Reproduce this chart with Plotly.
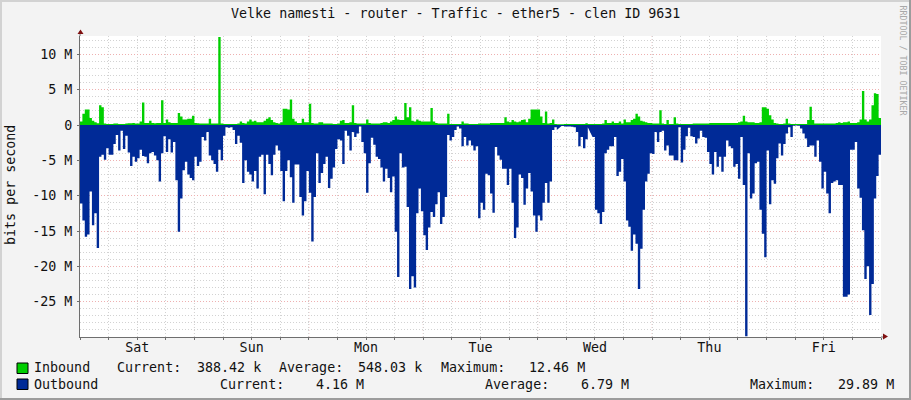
import numpy as np
import plotly.graph_objects as go

# half hour samples over one week, Mbit/s (outbound drawn negative)
outbound = [
    -11.1, -13.5, -15.8, -15.5, -9.4, -14.2, -12.5, -17.4, -4.5, -4.2,
    -4.9, -3.3, -4.2, -4.2, -2.7, -1.4, -3.6, -0.8, -3.4, -1.5,
    -3.9, -5.8, -4.5, -5.2, -4.7, -3.5, -4.4, -4.5, -5.4, -4.0,
    -3.8, -4.3, -5.0, -8.0, -4.0, -1.6, -3.8, -2.0, -3.9, -2.4,
    -7.8, -15.1, -10.4, -6.4, -5.2, -7.0, -7.5, -7.8, -4.5, -5.8,
    -5.2, -1.7, -2.2, -1.0, -4.3, -5.0, -5.5, -6.6, -3.5, -5.0,
    -1.5, -0.3, -0.4, -0.3, -0.7, -2.7, -1.5, -2.5, -8.2, -5.0,
    -6.6, -7.0, -8.0, -6.5, -9.0, -4.5, -4.2, -9.8, -4.2, -5.5,
    -7.1, -4.2, -2.9, -3.6, -6.5, -10.8, -6.5, -5.0, -7.4, -11.0,
    -5.6, -5.6, -10.2, -12.8, -10.8, -6.5, -9.6, -16.5, -10.2, -4.0,
    -8.2, -6.8, -5.5, -4.5, -8.9, -7.6, -6.0, -3.4, -2.0, -2.2,
    -5.5, -0.8, -1.5, -3.6, -1.0, -1.7, -1.2, -0.2, -2.4, -4.0,
    -9.6, -5.4, -1.8, -2.8, -4.5, -4.8, -6.0, -8.0, -6.2, -7.5,
    -9.5, -7.3, -15.1, -21.5, -4.0, -6.0, -5.9, -11.6, -23.2, -21.4,
    -23.0, -12.5, -9.0, -12.2, -15.6, -17.7, -14.5, -12.3, -13.0, -11.2,
    -9.5, -14.0, -13.0, -10.2, -1.4, -2.2, -1.7, -0.7, -0.2, -0.5,
    -3.0, -1.7, -2.9, -2.2, -2.9, -3.6, -3.0, -13.2, -11.0, -12.0,
    -6.9, -7.1, -9.7, -12.4, -3.1, -4.3, -4.9, -6.2, -6.2, -8.5,
    -6.2, -11.0, -16.0, -14.5, -7.0, -7.5, -11.3, -9.0, -6.8, -9.4,
    -12.8, -15.1, -12.8, -13.5, -11.0, -8.2, -11.0, -8.0, -0.7, -0.3,
    -0.7, None, -0.15, -0.2, -0.2, -0.2, -0.25, -0.3, -1.0, -3.0,
    -1.7, -3.3, -2.0, -0.3, None, -1.7, -12.0, -12.5, -14.0, -12.3,
    -4.0, -3.5, -3.0, -3.0, -1.7, -7.2, -6.6, -4.8, -8.0, -13.5,
    -14.4, -17.8, -15.5, -16.8, -23.2, -17.5, -12.0, -8.0, -6.9, -4.0,
    -4.1, -1.0, -2.4, -1.0, -0.8, -3.6, -2.9, -4.3, -4.3, -5.0,
    -5.0, -0.3, -5.3, -3.5, -1.6, -0.4, -1.6, -1.7, -2.6, -1.9,
    -0.8, -1.7, -1.8, -3.8, -5.5, -7.0, -3.8, -5.9, -4.5, -6.6,
    -4.5, -2.2, -3.0, -3.3, -5.9, -5.5, -7.6, -1.7, -8.5, -29.89,
    -4.0, -10.4, -9.7, -5.4, -5.2, -12.0, -15.4, -18.7, -3.6, -11.2,
    -7.8, -8.3, -4.7, -2.6, -4.3, -2.7, -1.2, -0.3, -1.7, -0.1,
    -0.05, -0.1, -0.5, -1.2, -1.9, -3.1, -2.9, -2.9, -4.5, -2.2,
    -5.2, -9.0, -6.6, -9.7, -12.5, -8.2, -8.0, -7.8, -8.5, -8.5,
    -24.3, -24.3, -24.0, -3.5, -3.5, -2.4, -9.0, -10.3, -14.9, -21.8,
    -20.0, -26.9, -22.5, -10.4, -7.2, -4.2,
]
inbound = [
    0.5, 1.6, 2.2, 2.2, 1.0, 0.6, 0.4, 0.25, 2.8, 2.5,
    0.2, 0.15, 0.15, 0.15, 0.2, 0.2, 0.15, 0.15, 0.15, 0.2,
    0.25, 0.25, 0.3, 0.2, 0.2, 0.5, 3.2, 0.3, 0.3, 0.6,
    0.3, 0.25, 0.3, 0.3, 3.5, 0.3, 0.8, 0.4, 0.3, 0.3,
    0.3, 1.7, 1.2, 0.8, 0.8, 0.9, 0.9, 1.3, 0.3, 0.25,
    0.2, 0.2, 0.2, 0.2, 0.9, 0.2, 0.2, 0.2, 12.46, 0.2,
    0.15, 0.15, 0.15, 0.15, 0.15, 0.15, 0.2, 0.5, 0.3, 0.2,
    0.5, 0.8, 0.5, 0.6, 0.4, 0.4, 0.4, 0.6, 0.9, 1.1,
    0.7, 0.4, 0.3, 0.2, 0.4, 2.3, 2.3, 2.2, 3.6, 0.9,
    0.5, 0.3, 0.3, 0.9, 0.4, 0.4, 3.0, 0.3, 0.2, 0.2,
    0.4, 0.4, 0.2, 0.2, 0.2, 0.2, 0.15, 0.15, 0.2, 0.6,
    0.7, 0.3, 0.3, 0.4, 2.8, 0.3, 0.2, 0.2, 0.2, 0.2,
    0.8, 0.3, 0.2, 0.2, 0.2, 0.2, 0.3, 0.4, 0.4, 0.3,
    0.5, 0.7, 1.2, 0.8, 0.7, 0.7, 3.1, 1.1, 2.5, 0.6,
    0.5, 0.8, 0.6, 0.5, 0.5, 0.5, 0.5, 2.4, 0.5, 0.3,
    0.2, 0.2, 0.2, 0.2, 1.6, 0.15, 0.15, 0.15, 0.15, 0.15,
    0.5, 0.2, 0.2, 0.15, 0.15, 0.15, 0.15, 0.2, 0.2, 0.2,
    0.2, 0.2, 0.3, 0.3, 0.3, 0.3, 0.3, 0.3, 1.1, 0.5,
    0.4, 0.7, 0.5, 0.4, 0.5, 0.7, 0.8, 0.4, 0.9, 2.2,
    2.2, 2.2, 2.2, 1.2, 0.3, 1.9, 0.2, 0.3, 0.8, 0.15,
    0.1, None, 0.1, 0.15, 0.15, 0.15, 0.15, 0.15, 0.15, 0.15,
    0.15, 0.15, 0.25, 0.15, None, 0.15, 0.15, 0.15, 0.15, 0.2,
    0.7, 0.3, 0.3, 0.5, 0.3, 0.3, 0.5, 0.2, 0.8, 0.4,
    0.4, 0.7, 0.9, 1.6, 1.2, 0.6, 0.5, 0.4, 0.3, 0.3,
    0.2, 0.2, 0.2, 2.1, 0.2, 0.15, 0.7, 0.15, 0.15, 1.1,
    0.2, 0.15, 0.15, 0.15, 0.15, 0.15, 0.15, 0.2, 0.2, 0.2,
    0.2, 0.2, 0.2, 0.2, 0.3, 0.3, 0.3, 0.3, 0.3, 0.3,
    0.3, 0.3, 0.3, 0.3, 0.3, 0.3, 0.4, 0.5, 1.3, 0.5,
    0.4, 0.4, 0.4, 0.3, 0.3, 0.4, 2.5, 2.5, 2.3, 1.4,
    0.8, 0.3, 0.2, 0.15, 0.15, 0.2, 0.9, 0.2, 0.15, 0.15,
    0.15, 0.15, 0.15, 0.15, 0.15, 0.7, 2.6, 0.7, 0.2, 0.2,
    0.2, 0.2, 0.2, 0.2, 0.2, 0.2, 0.2, 0.3, 0.4, 0.3,
    0.4, 0.4, 0.5, 0.3, 0.3, 0.3, 0.4, 0.8, 4.8, 0.8,
    0.5, 0.8, 2.8, 4.5, 4.4, 1.0,
]
assert len(outbound) == 336 and len(inbound) == 336

days = ['Sat', 'Sun', 'Mon', 'Tue', 'Wed', 'Thu', 'Fri']
y_ticks = [10, 5, 0, -5, -10, -15, -20, -25]
y_labels = ['10 M', '5 M', '0', '-5 M', '-10 M', '-15 M', '-20 M', '-25 M']

# legend rows: text, left edge in pixels
inbound_row = [('Inbound', 32), ('Current:', 114.5), ('388.42 k', 194.5), ('Average:', 277),
               ('548.03 k', 356), ('Maximum:', 439), ('12.46 M', 527)]
outbound_row = [('Outbound', 32), ('Current:', 217.5), ('4.16 M', 314), ('Average:', 483),
                ('6.79 M', 579), ('Maximum:', 747.5), ('29.89 M', 836)]

GREEN = '#00CF00'
BLUE = '#002A97'
GREY_GRID = '#d2d2d2'
RED_GRID = '#eeb0b0'
AXIS = '#6e6e6e'
ARROW = '#7f1010'
MONO = 'DejaVu Sans Mono'
TEXT_SIZE = 13.33

W, H = 911, 400
L, R, T, B = 80, 30, 36, 63
hours = np.arange(337) * 0.5


def px(x):
    return (x - L) / (W - L - R)


def py(y):
    return 1 - (y - T) / (H - T - B)


def label(x, y, text, anchor='left', size=TEXT_SIZE, color='#111111', angle=0):
    return dict(x=px(x), y=py(y), xref='paper', yref='paper', text=text, showarrow=False,
                xanchor=anchor, yanchor='middle', textangle=angle,
                font=dict(family=MONO, size=size, color=color))


def box(x0, y0, x1, y1, fill, line='#000000'):
    return dict(type='rect', xref='paper', yref='paper', x0=px(x0), x1=px(x1), y0=py(y0), y1=py(y1),
                fillcolor=fill, line=dict(color=line, width=1))


fig = go.Figure()
fig.add_trace(go.Scatter(x=hours, y=outbound + outbound[-1:], mode='lines', name='Outbound',
                         line=dict(shape='hv', width=0, color=BLUE),
                         fill='tozeroy', fillcolor=BLUE, showlegend=False))
fig.add_trace(go.Scatter(x=hours, y=inbound + inbound[-1:], mode='lines', name='Inbound',
                         line=dict(shape='hv', width=0, color=GREEN),
                         fill='tozeroy', fillcolor=GREEN, showlegend=False))

# midnight lines are red, the 6 hour ones come from the axis grid
shapes = []
for d in range(1, 7):
    shapes.append(dict(type='line', xref='x', yref='paper', x0=d * 24, x1=d * 24, y0=0, y1=1, layer='below',
                       line=dict(color=RED_GRID, width=1, dash='1px,2px')))

# axis arrows and image border
shapes.append(dict(type='line', xref='paper', yref='paper', x0=0, x1=0, y0=1, y1=py(31),
                   line=dict(color=AXIS, width=1)))
shapes.append(dict(type='line', xref='paper', yref='paper', x0=1, x1=px(884), y0=0, y1=0,
                   line=dict(color=AXIS, width=1)))
shapes.append(dict(type='path', xref='paper', yref='paper', fillcolor=ARROW, line=dict(color=ARROW, width=0),
                   path='M %f %f L %f %f L %f %f Z' % (px(77.5), py(34), px(83.5), py(34), px(80.5), py(29.5))))
shapes.append(dict(type='path', xref='paper', yref='paper', fillcolor=ARROW, line=dict(color=ARROW, width=0),
                   path='M %f %f L %f %f L %f %f Z' % (px(883), py(333.5), px(883), py(339.5), px(888), py(336.5))))
shapes.append(box(17, 363, 28, 373.5, GREEN))
shapes.append(box(17, 379, 28, 389.5, BLUE))
shapes.append(dict(type='rect', xref='paper', yref='paper', x0=px(0), x1=px(2), y0=py(0), y1=py(400),
                   fillcolor='#d2d2d2', line=dict(width=0)))
shapes.append(dict(type='rect', xref='paper', yref='paper', x0=px(0), x1=px(911), y0=py(0), y1=py(2),
                   fillcolor='#d2d2d2', line=dict(width=0)))
shapes.append(dict(type='rect', xref='paper', yref='paper', x0=px(909), x1=px(911), y0=py(0), y1=py(400),
                   fillcolor='#9c9c9c', line=dict(width=0)))
shapes.append(dict(type='rect', xref='paper', yref='paper', x0=px(0), x1=px(911), y0=py(398), y1=py(400),
                   fillcolor='#9c9c9c', line=dict(width=0)))

annotations = [
    label(455.5, 14, 'Velke namesti - router - Traffic - ether5 - clen ID 9631', anchor='center'),
    label(10, 185, 'bits per second', anchor='center', angle=-90),
    label(902.5, 60, 'RRDTOOL / TOBI OETIKER', anchor='center', size=8.3, color='#a8a8a8', angle=90),
]
for text, x in inbound_row:
    annotations.append(label(x, 368, text))
for text, x in outbound_row:
    annotations.append(label(x, 384, text))

fig.update_layout(
    width=W, height=H,
    margin=dict(l=L, r=R, t=T, b=B, pad=0),
    paper_bgcolor='#f3f3f3', plot_bgcolor='#ffffff',
    font=dict(family=MONO, size=TEXT_SIZE, color='#111111'),
    shapes=shapes, annotations=annotations,
    xaxis=dict(range=[0, 168], tickmode='array', tickvals=list(np.arange(0, 169, 6)),
               ticktext=[days[(h - 12) // 24] if h % 24 == 12 else '' for h in range(0, 169, 6)],
               showgrid=True, gridcolor=GREY_GRID, griddash='1px,2px', gridwidth=1,
               zeroline=False, showline=True, linecolor=AXIS, linewidth=1,
               ticks='outside', ticklen=2, tickcolor=AXIS, tickangle=0,
               ticklabelstandoff=-4),
    yaxis=dict(range=[-30, 12.6], tickmode='array', tickvals=y_ticks, ticktext=y_labels,
               showgrid=True, gridcolor=RED_GRID, griddash='1px,2px', gridwidth=1,
               zeroline=False, showline=True, linecolor=AXIS, linewidth=1,
               ticks='outside', ticklen=2, tickcolor=AXIS, ticklabelstandoff=2,
               minor=dict(dtick=1, tick0=0, showgrid=True, gridcolor=GREY_GRID, griddash='1px,2px', gridwidth=1)),
)

fig.write_html("out.html", config=dict(displayModeBar=False),
               post_script="document.body.style.margin='0';")
